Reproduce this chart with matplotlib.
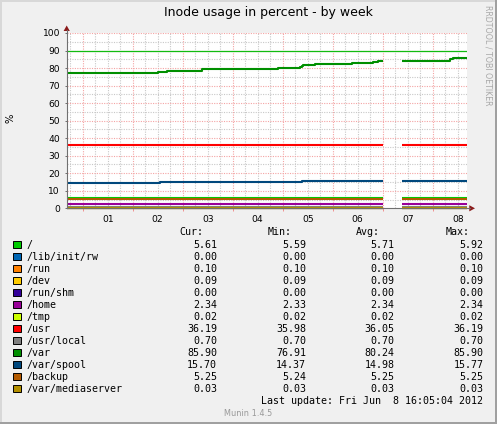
import matplotlib
matplotlib.use('Agg')
import matplotlib.pyplot as plt
import numpy as np
from matplotlib.lines import Line2D
from matplotlib.patches import Rectangle, Polygon

# ---------------- data ----------------
title = "Inode usage in percent - by week"
ylabel = "%"
day_labels = ["01", "02", "03", "04", "05", "06", "07", "08"]
y_ticks = [0, 10, 20, 30, 40, 50, 60, 70, 80, 90, 100]

# time axis in days since Jun 1 00:00
t_start, t_end = -0.32, 7.68
gap_start, gap_end = 6.01, 6.39
warn_level = 90

names = ["/", "/lib/init/rw", "/run", "/dev", "/run/shm", "/home", "/tmp",
         "/usr", "/usr/local", "/var", "/var/spool", "/backup", "/var/mediaserver"]
colors = ["#00CC00", "#0066B3", "#FF8000", "#FFCC00", "#330099", "#990099",
          "#CCFF00", "#FF0000", "#808080", "#008F00", "#00487D", "#B35A00", "#B38F00"]

cur = ["5.61", "0.00", "0.10", "0.09", "0.00", "2.34", "0.02", "36.19", "0.70",
       "85.90", "15.70", "5.25", "0.03"]
vmin = ["5.59", "0.00", "0.10", "0.09", "0.00", "2.33", "0.02", "35.98", "0.70",
        "76.91", "14.37", "5.24", "0.03"]
vavg = ["5.71", "0.00", "0.10", "0.09", "0.00", "2.34", "0.02", "36.05", "0.70",
        "80.24", "14.98", "5.25", "0.03"]
vmax = ["5.92", "0.00", "0.10", "0.09", "0.00", "2.34", "0.02", "36.19", "0.70",
        "85.90", "15.77", "5.25", "0.03"]

nan = float('nan')
# step series: (times, values); NaN marks the data gap
root_t = [t_start, 3.0, gap_start, gap_end, t_end]
root_v = [5.9, 5.72, nan, 5.61, 5.61]
usr_t = [t_start, 4.0, gap_start, gap_end, t_end]
usr_v = [36.0, 36.1, nan, 36.19, 36.19]
var_t = [t_start, 1.51, 1.68, 2.38, 3.91, 4.35, 4.38, 4.41, 4.65, 5.38, 5.80, 5.91,
         gap_start, gap_end, 7.35, 7.40, t_end]
var_v = [77.2, 77.9, 78.5, 79.5, 80.0, 80.4, 81.3, 81.9, 82.5, 83.1, 83.6, 84.2,
         nan, 84.2, 85.0, 85.9, 85.9]
spool_t = [t_start, 1.55, 4.39, gap_start, gap_end, t_end]
spool_v = [14.5, 15.1, 15.7, nan, 15.7, 15.7]
const_levels = {"/lib/init/rw": 0.0, "/run": 0.10, "/dev": 0.09, "/run/shm": 0.0,
                "/home": 2.34, "/tmp": 0.02, "/usr/local": 0.70, "/backup": 5.25,
                "/var/mediaserver": 0.03}
last_update = "Last update: Fri Jun  8 16:05:04 2012"
footer = "Munin 1.4.5"
watermark = "RRDTOOL / TOBI OETIKER"

# ---------------- figure ----------------
W, H = 497, 424
fig = plt.figure(figsize=(W / 100, H / 100), dpi=100, facecolor='#F0F0F0')


def fx(x):
    return x / W


def fy(y):
    return 1 - y / H


X0, X1, Y0, Y1 = 66.7, 466.7, 33.0, 208.3
ax = fig.add_axes([fx(X0), fy(Y1), (X1 - X0) / W, (Y1 - Y0) / H])
ax.set_facecolor('white')
ax.set_xlim(t_start, t_end)
ax.set_ylim(0, 100)
for s in ax.spines.values():
    s.set_visible(False)

# grid
minor_x = np.arange(-0.25, t_end, 0.25)
minor_x = [v for v in minor_x if abs(v - round(v)) > 1e-6]
major_x = np.arange(0, 8, 1)
gray_grid = '#C8C8C8'
red_grid = '#F4A4A4'
dots = (0, (1, 1.2))
ax.vlines(minor_x, 0, 100, colors=gray_grid, linestyles=dots, lw=0.8, zorder=1)
ax.hlines(np.arange(5, 100, 10), t_start, t_end, colors=gray_grid,
          linestyles=dots, lw=0.8, zorder=1)
ax.vlines(major_x, 0, 100, colors=red_grid, linestyles=dots, lw=0.8, zorder=2)
ax.hlines(np.arange(10, 101, 10), t_start, t_end, colors=red_grid,
          linestyles=dots, lw=0.8, zorder=2)

ax.axhline(warn_level, color='#11BB11', lw=0.9, zorder=3)

# series
lw = 1.5
for name, col in zip(names, colors):
    if name == "/":
        t, v = root_t, root_v
    elif name == "/usr":
        t, v = usr_t, usr_v
    elif name == "/var":
        t, v = var_t, var_v
    elif name == "/var/spool":
        t, v = spool_t, spool_v
    else:
        lvl = const_levels[name]
        t, v = [t_start, gap_start, gap_end, t_end], [lvl, nan, lvl, lvl]
    ax.plot(t, v, drawstyle='steps-post', color=col, lw=lw,
            solid_capstyle='butt', zorder=4, clip_on=False)

# ticks
ax.set_yticks(y_ticks)
ax.set_yticklabels([str(v) for v in y_ticks])
ax.set_xticks(major_x)
ax.set_xticklabels([])
ax.set_xticks(np.arange(0.5, 8, 1), minor=True)
ax.set_xticklabels(day_labels, minor=True)
ax.tick_params(axis='y', length=1.8, width=0.7, color='#707070', pad=3.0,
               labelsize=6.6, labelcolor='black')
ax.tick_params(axis='x', which='major', length=2, width=0.7, color='#F09090')
ax.tick_params(axis='x', which='minor', length=0, pad=5.0, labelsize=6.6,
               labelcolor='black')

# axes lines with arrows
axis_col = '#707070'
arrow_col = '#8B1A1A'
fig.add_artist(Line2D([fx(X0), fx(X0)], [fy(Y1), fy(29.5)], color=axis_col, lw=0.8))
fig.add_artist(Line2D([fx(X0), fx(470)], [fy(Y1), fy(Y1)], color=axis_col, lw=0.8))
fig.add_artist(Polygon([(fx(66.7), fy(25.5)), (fx(63.6), fy(31.0)), (fx(69.8), fy(31.0))],
                       closed=True, color=arrow_col, lw=0))
fig.add_artist(Polygon([(fx(475.0), fy(208.3)), (fx(469.3), fy(205.2)), (fx(469.3), fy(211.4))],
                       closed=True, color=arrow_col, lw=0))

# texts
fig.text(fx(268), fy(12.5), title, ha='center', va='center', fontsize=9.0,
         family='DejaVu Sans')
fig.text(fx(10), fy(118), ylabel, ha='center', va='center', rotation=90,
         fontsize=7.2, family='DejaVu Sans')
fig.text(fx(488), fy(5), watermark, ha='center', va='top', rotation=270,
         fontsize=5.7, color='#A8A8A8', family='DejaVu Sans')

mono = 'DejaVu Sans Mono'
fs = 7.2
hy = 232.3
for label, xr in [("Cur:", 203.0), ("Min:", 292.0), ("Avg:", 380.3), ("Max:", 469.3)]:
    fig.text(fx(xr), fy(hy), label, ha='right', va='center', fontsize=fs, family=mono)

for i, name in enumerate(names):
    yc = 244.7 + 12 * i
    fig.add_artist(Rectangle((fx(13.3), fy(yc + 3.7)), 7.4 / W, 7.4 / H,
                             facecolor=colors[i], edgecolor='black', lw=0.7))
    fig.text(fx(26.5), fy(yc), name, ha='left', va='center', fontsize=fs, family=mono)
    for vals, xr in [(cur, 217.0), (vmin, 306.0), (vavg, 394.3), (vmax, 483.3)]:
        fig.text(fx(xr), fy(yc), vals[i], ha='right', va='center', fontsize=fs, family=mono)

fig.text(fx(483.3), fy(400.7), last_update, ha='right', va='center', fontsize=fs,
         family=mono)
fig.text(fx(248), fy(413.3), footer, ha='center', va='center', fontsize=5.9,
         color='#999999', family='DejaVu Sans')

# image frame
light, dark = '#D8D8D8', '#A0A0A0'
fig.add_artist(Line2D([0, 1], [fy(1), fy(1)], color=light, lw=1.44))
fig.add_artist(Line2D([fx(1), fx(1)], [0, 1], color=light, lw=1.44))
fig.add_artist(Line2D([0, 1], [fy(H - 1), fy(H - 1)], color=dark, lw=1.44))
fig.add_artist(Line2D([fx(W - 1), fx(W - 1)], [0, 1], color=dark, lw=1.44))

fig.savefig('out.png', dpi=100, facecolor=fig.get_facecolor())
